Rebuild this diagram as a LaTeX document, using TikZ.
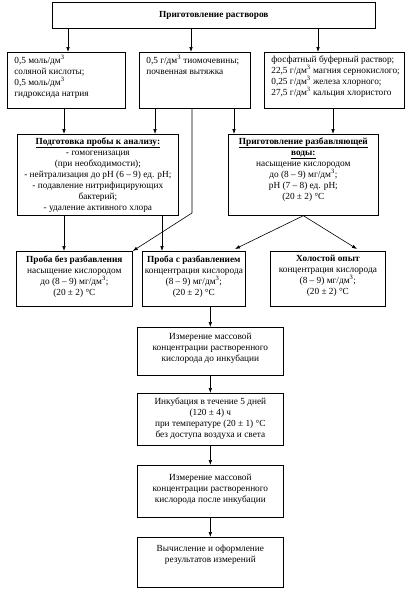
\documentclass[tikz,border=0pt]{standalone}
\usepackage{fontspec}
\setmainfont{Liberation Serif}
\usetikzlibrary{arrows.meta}
\newcommand{\bxc}[4]{\parbox[c][#2][t]{#1}{\vspace{#3}\centering #4\par}}
\newcommand{\bxl}[4]{\parbox[c][#2][t]{#1}{\vspace{#3}\raggedright\leftskip=7pt #4\par}}
\newcommand{\dmc}{дм\textsuperscript{3}}
\begin{document}
\begin{tikzpicture}[x=1pt,y=-1pt,
  box/.style={draw, inner sep=0pt, line width=0.7pt, anchor=north west, font=\fontsize{9.3}{11}\selectfont},
  arr/.style={-{Latex[length=5pt,width=3.6pt]}, line width=0.6pt},
  ln/.style={line width=0.6pt}]
\useasboundingbox (0,0) rectangle (413,592);

\node[box] (top) at (52,2) {\parbox[c][26pt][c]{323pt}{\centering\bfseries Приготовление растворов\par}};

\node[box] (b1) at (7,52) {\bxl{118pt}{56pt}{3pt}{0,5 моль/\dmc\\ соляной кислоты;\\ 0,5 моль/\dmc\\ гидроксида натрия}};
\node[box] (b2) at (139,52) {\bxl{111pt}{56pt}{3pt}{0,5 г/\dmc\ тиомочевины;\\ почвенная вытяжка}};
\node[box] (b3) at (264,52) {\bxl{140pt}{56pt}{3pt}{фосфатный буферный раствор;\\ 22,5 г/\dmc\ магния сернокислого;\\ 0,25 г/\dmc\ железа хлорного;\\ 27,5 г/\dmc\ кальция хлористого}};

\node[box] (c1) at (17,134) {\bxc{161pt}{81pt}{3pt}{\textbf{\underline{Подготовка пробы к анализу:}}\\ - гомогенизация\\ (при необходимости);\\ - нейтрализация до pH (6 – 9) ед. pH;\\ - подавление нитрифицирующих\\ бактерий;\\ - удаление активного хлора}};
\node[box] (c2) at (228,134) {\bxc{150pt}{81pt}{3pt}{\textbf{\underline{Приготовление разбавляющей}}\\ \textbf{\underline{воды:}}\\ насыщение кислородом\\ до (8 – 9) мг/\dmc;\\ pH (7 – 8) ед. pH;\\ (20 ± 2) °C}};

\node[box] (d1) at (16,251) {\bxc{116pt}{55pt}{4pt}{\textbf{Проба без разбавления}\\ насыщение кислородом\\ до (8 – 9) мг/\dmc;\\ (20 ± 2) °C}};
\node[box] (d2) at (142,251) {\bxc{103pt}{55pt}{4pt}{\textbf{Проба с разбавлением}\\ концентрация кислорода\\ (8 – 9) мг/\dmc;\\ (20 ± 2) °C}};
\node[box] (d3) at (270,251) {\bxc{115pt}{55pt}{4pt}{\textbf{Холостой опыт}\\ концентрация кислорода\\ (8 – 9) мг/\dmc;\\ (20 ± 2) °C}};

\node[box] (e1) at (137,327) {\bxc{146pt}{48pt}{6pt}{Измерение массовой\\ концентрации растворенного\\ кислорода до инкубации}};
\node[box] (e2) at (137,393) {\bxc{146pt}{52pt}{4pt}{Инкубация в течение 5 дней\\ (120 ± 4) ч\\ при температуре (20 ± 1) °C\\ без доступа воздуха и света}};
\node[box] (e3) at (137,465) {\bxc{146pt}{52pt}{9pt}{Измерение массовой\\ концентрации растворенного\\ кислорода после инкубации}};
\node[box] (e4) at (137,537) {\bxc{146pt}{50pt}{8pt}{Вычисление и оформление\\ результатов измерений}};

\coordinate (x68) at (68,0);
\coordinate (x191) at (191,0);
\coordinate (x318) at (318,0);
\coordinate (x64) at (64,0);
\coordinate (x155) at (155,0);
\coordinate (x192) at (192,0);
\coordinate (x234) at (234,0);
\coordinate (x333) at (333,0);
\coordinate (x162) at (162,0);
\coordinate (bend) at (192,213);
\coordinate (d2in) at (235,249);
\coordinate (d3in) at (357,249);

\draw[arr] (top.south -| x68) -- (b1.north -| x68);
\draw[arr] (top.south -| x191) -- (b2.north -| x191);
\draw[arr] (top.south -| x318) -- (b3.north -| x318);

\draw[arr] (b1.south -| x64) -- (c1.north -| x64);
\draw[arr] (b2.south -| x155) -- (c1.north -| x155);
\draw[arr] (b2.south -| x192) -- (bend) -- (d1.north east);
\draw[arr] (b2.south -| x234) -- (c2.north -| x234);
\draw[arr] (b3.south -| x333) -- (c2.north -| x333);

\draw[arr] (c1.south -| x64) -- (d1.north -| x64);
\draw[arr] (c1.south -| x162) -- (d2.north -| x162);
\draw[arr] (c2.south) -- (d2in);
\draw[arr] (c2.south) -- (d3in);

\draw[arr] (d2.south -| e1.north) -- (e1.north);
\draw[arr] (e1.south) -- (e2.north);
\draw[arr] (e2.south) -- (e3.north);
\draw[arr] (e3.south) -- (e4.north);
\end{tikzpicture}
\end{document}
